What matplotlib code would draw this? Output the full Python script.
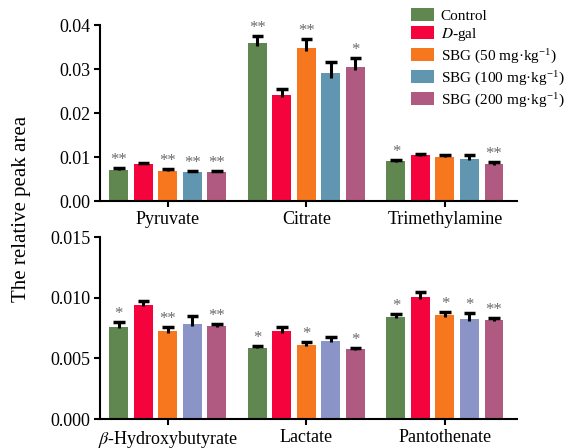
import numpy as np
import matplotlib
matplotlib.use("Agg")
import matplotlib.pyplot as plt

plt.rcParams['font.family'] = ['Liberation Serif', 'DejaVu Serif']
plt.rcParams['mathtext.fontset'] = 'stix'

# data
groups = ["Control", "$\\mathit{D}$-gal",
          "SBG (50 mg·kg$^{\\mathregular{-1}}$)",
          "SBG (100 mg·kg$^{\\mathregular{-1}}$)",
          "SBG (200 mg·kg$^{\\mathregular{-1}}$)"]

top_names = ["Pyruvate", "Citrate", "Trimethylamine"]
top_vals = [[0.0071, 0.0358, 0.0090],
            [0.0084, 0.0241, 0.0104],
            [0.0069, 0.0348, 0.0101],
            [0.0067, 0.0290, 0.0096],
            [0.0067, 0.0305, 0.0084]]
top_err = [[0.0003, 0.0018, 0.0004],
           [0.0002, 0.0014, 0.0003],
           [0.0003, 0.0020, 0.0003],
           [0.0002, 0.0027, 0.0008],
           [0.0002, 0.0019, 0.0004]]
top_sig = [["**", "**", "*"],
           ["", "", ""],
           ["**", "**", ""],
           ["**", "", ""],
           ["**", "*", "**"]]

bot_names = ["$\\beta$-Hydroxybutyrate", "Lactate", "Pantothenate"]
bot_vals = [[0.00761, 0.00586, 0.00838],
            [0.00942, 0.00723, 0.01002],
            [0.00725, 0.00613, 0.00854],
            [0.00786, 0.00643, 0.00827],
            [0.00766, 0.00575, 0.00813]]
bot_err = [[0.00036, 0.00014, 0.00025],
           [0.00030, 0.00038, 0.00048],
           [0.00035, 0.00022, 0.00030],
           [0.00066, 0.00030, 0.00044],
           [0.00014, 0.00010, 0.00022]]
bot_sig = [["*", "*", "*"],
           ["", "", ""],
           ["**", "*", "*"],
           ["", "", "*"],
           ["**", "*", "**"]]

top_colors = ["#60874F", "#F5033C", "#F7771E", "#6096B0", "#B05A82"]
bot_colors = ["#60874F", "#F5033C", "#F7771E", "#8A94C6", "#B05A82"]

fig = plt.figure(figsize=(5.64, 4.48), dpi=100)
ax1 = fig.add_axes([100/564, 1-201/448, 417/564, 176/448])
ax2 = fig.add_axes([100/564, 1-419/448, 417/564, 182/448])

x = np.arange(3)
width = 0.137
step = 0.177
cap = 0.042


def draw(ax, vals, errs, sigs, colors, names, ylim, yticks, fmt):
    handles = []
    for i in range(5):
        pos = x + (i - 2) * step
        v = np.array(vals[i])
        e = np.array(errs[i])
        b = ax.bar(pos, v, width, color=colors[i], zorder=2)
        # upper error bar only, with a short stem into the bar
        ax.vlines(pos, v - 0.35 * e, v + e, color='black', lw=2.2, zorder=3)
        ax.hlines(v + e, pos - cap, pos + cap, color='black', lw=2.5, zorder=3)
        for j in range(3):
            if sigs[i][j]:
                ax.annotate(sigs[i][j], (pos[j], v[j] + e[j]),
                            xytext=(0, 0), textcoords='offset points',
                            ha='center', va='bottom', fontsize=12,
                            color='#6a6a6a')
        handles.append(b)
    ax.set_xlim(-0.49, 2.52)
    ax.set_ylim(*ylim)
    ax.set_yticks(yticks)
    ax.set_yticklabels([fmt.format(t) for t in yticks])
    ax.set_xticks(x)
    ax.set_xticklabels(names)
    for s in ['top', 'right']:
        ax.spines[s].set_visible(False)
    for s in ['left', 'bottom']:
        ax.spines[s].set_linewidth(1.5)
    ax.tick_params(axis='both', labelsize=13, width=1.5, length=4, pad=3)
    return handles


handles = draw(ax1, top_vals, top_err, top_sig, top_colors, top_names,
               (0, 0.04), [0, 0.01, 0.02, 0.03, 0.04], "{:.2f}")
draw(ax2, bot_vals, bot_err, bot_sig, bot_colors, bot_names,
     (0, 0.015), [0, 0.005, 0.010, 0.015], "{:.3f}")

fig.legend(handles, groups, loc='upper left', bbox_to_anchor=(411/564, 1-8/448),
           frameon=False, fontsize=11, handlelength=1.5, handleheight=0.9,
           handletextpad=0.45, labelspacing=0.2, borderpad=0, borderaxespad=0)

fig.text(22/564, 1-209/448, "The relative peak area", rotation=90,
         ha='center', va='center', fontsize=15)

fig.savefig("out.png", dpi=100)
